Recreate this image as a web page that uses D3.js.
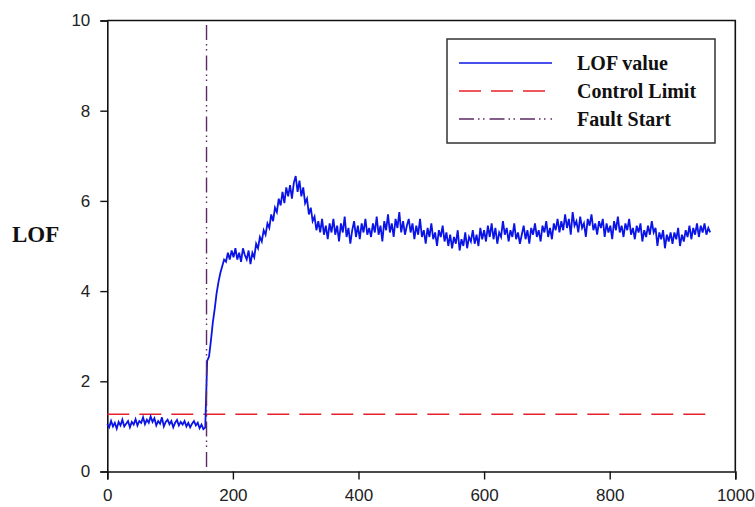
<!DOCTYPE html>
<html lang="en">
<head>
  <meta charset="UTF-8">
  <title>LOF Fault Detection</title>
  <script src="https://d3js.org/d3.v7.min.js"></script>
  <style>
    body { margin: 0; background: #fff; }
    svg { display: block; }
    .tick text { font-family: "Liberation Sans", Arial, sans-serif; font-size: 17px; fill: #222; }
    .serif { font-family: "Liberation Serif", "Times New Roman", serif; font-weight: bold; fill: #111; }
  </style>
</head>
<body>
  <svg width="755" height="507"></svg>

  <script>
    const width = 755, height = 507;
    const margin = { top: 20.5, right: 19.7, bottom: 35.5, left: 107.3 };

    // LOF value, one reading every 3 samples (x = 0, 3, 6, ... 960)
    const sampleStep = 3;
    const lofValues = [
      1.05, 0.98, 1.12, 1.00, 1.08, 0.95, 1.10, 1.02, 1.15, 1.00, 1.06, 1.12, 0.98, 1.10, 1.04, 1.16, 1.02, 1.12, 1.08, 1.20,
      1.05, 1.15, 1.08, 1.22, 1.10, 1.18, 1.02, 1.12, 1.06, 1.20, 1.00, 1.10, 1.15, 1.05, 1.12, 0.98, 1.08, 1.14, 1.02, 1.10,
      1.04, 1.12, 1.00, 1.08, 0.98, 1.06, 1.12, 1.02, 1.08, 0.96, 1.04, 0.94, 0.98, 2.45, 2.55, 2.90, 3.30, 3.60, 3.95, 4.20,
      4.40, 4.55, 4.70, 4.65, 4.85, 4.70, 4.90, 4.75, 4.95, 4.70, 4.85, 4.65, 4.95, 4.80, 4.70, 4.90, 4.60, 4.85, 4.75, 5.05,
      4.95, 5.20, 5.10, 5.35, 5.25, 5.50, 5.40, 5.70, 5.55, 5.85, 5.75, 6.05, 5.90, 6.20, 5.95, 6.30, 6.10, 6.35, 6.05, 6.40,
      6.55, 6.20, 6.45, 6.10, 6.30, 5.95, 6.05, 5.70, 5.85, 5.55, 5.65, 5.35, 5.55, 5.30, 5.60, 5.25, 5.45, 5.15, 5.50, 5.30,
      5.60, 5.25, 5.45, 5.10, 5.50, 5.30, 5.65, 5.20, 5.40, 5.05, 5.35, 5.55, 5.20, 5.45, 5.15, 5.50, 5.30, 5.60, 5.25, 5.40,
      5.20, 5.50, 5.30, 5.65, 5.25, 5.45, 5.10, 5.55, 5.35, 5.70, 5.30, 5.50, 5.20, 5.60, 5.40, 5.75, 5.30, 5.55, 5.25, 5.45,
      5.60, 5.30, 5.50, 5.15, 5.45, 5.25, 5.60, 5.20, 5.35, 5.05, 5.40, 5.20, 5.50, 5.15, 5.30, 5.00, 5.35, 5.20, 5.45, 5.10,
      5.30, 5.00, 5.25, 4.95, 5.20, 5.05, 5.35, 4.90, 5.15, 5.00, 5.30, 4.95, 5.20, 5.10, 5.35, 5.05, 5.25, 5.00, 5.40, 5.15,
      5.35, 5.10, 5.45, 5.20, 5.50, 5.15, 5.40, 5.05, 5.30, 5.20, 5.55, 5.25, 5.40, 5.10, 5.35, 5.20, 5.50, 5.15, 5.30, 5.05,
      5.25, 5.45, 5.15, 5.35, 5.05, 5.40, 5.25, 5.50, 5.20, 5.35, 5.10, 5.45, 5.30, 5.55, 5.20, 5.40, 5.15, 5.50, 5.35, 5.60,
      5.30, 5.55, 5.35, 5.70, 5.40, 5.60, 5.25, 5.75, 5.45, 5.55, 5.30, 5.65, 5.40, 5.50, 5.20, 5.60, 5.45, 5.70, 5.35, 5.50,
      5.25, 5.55, 5.40, 5.60, 5.20, 5.50, 5.30, 5.45, 5.15, 5.55, 5.35, 5.65, 5.30, 5.45, 5.20, 5.50, 5.35, 5.60, 5.25, 5.40,
      5.15, 5.45, 5.30, 5.50, 5.10, 5.35, 5.20, 5.45, 5.25, 5.55, 5.30, 5.40, 5.00, 5.30, 5.15, 5.35, 4.95, 5.25, 5.10, 5.30,
      5.05, 5.30, 5.15, 5.40, 5.00, 5.25, 5.10, 5.35, 5.20, 5.45, 5.15, 5.40, 5.25, 5.50, 5.20, 5.45, 5.30, 5.50, 5.25, 5.40,
      5.30
    ];

    const controlLimit = 1.27;
    const controlRange = [0, 955];
    const faultStart = 158;

    const xTicks = [0, 200, 400, 600, 800, 1000];
    const yTicks = [0, 2, 4, 6, 8, 10];
    const legendLabels = ["LOF value", "Control Limit", "Fault Start"];

    const lofData = lofValues.map((v, i) => ({ x: i * sampleStep, y: v }));

    const svg = d3.select("svg");

    const x = d3.scaleLinear().domain([0, 1000]).range([margin.left, width - margin.right]);
    const y = d3.scaleLinear().domain([0, 10]).range([height - margin.bottom, margin.top]);

    // frame (top and right edges)
    svg.append("path")
      .attr("d", `M${x(0)},${y(10)}H${x(1000)}V${y(0)}`)
      .attr("fill", "none")
      .attr("stroke", "#111")
      .attr("stroke-width", 1.6);

    // axes
    svg.append("g")
      .attr("transform", `translate(0,${y(0)})`)
      .call(d3.axisBottom(x).tickValues(xTicks).tickFormat(d3.format("d")).tickSize(8).tickPadding(9))
      .call(g => g.select(".domain").attr("stroke-width", 1.6).attr("stroke", "#111"))
      .call(g => g.selectAll(".tick line").attr("stroke-width", 1.4).attr("stroke", "#111"));

    svg.append("g")
      .attr("transform", `translate(${x(0)},0)`)
      .call(d3.axisLeft(y).tickValues(yTicks).tickSize(7).tickPadding(10))
      .call(g => g.select(".domain").attr("stroke-width", 1.6).attr("stroke", "#111"))
      .call(g => g.selectAll(".tick line").attr("stroke-width", 1.4).attr("stroke", "#111"));

    // control limit
    svg.append("line")
      .attr("x1", x(controlRange[0])).attr("x2", x(controlRange[1]))
      .attr("y1", y(controlLimit)).attr("y2", y(controlLimit))
      .attr("stroke", "#e8202a")
      .attr("stroke-width", 1.4)
      .attr("stroke-dasharray", "22,10");

    // LOF line
    const line = d3.line().x(d => x(d.x)).y(d => y(d.y));
    svg.append("path")
      .datum(lofData)
      .attr("d", line)
      .attr("fill", "none")
      .attr("stroke", "#0a14e6")
      .attr("stroke-width", 1.8);

    // fault start
    svg.append("line")
      .attr("x1", x(faultStart)).attr("x2", x(faultStart))
      .attr("y1", y(9.9)).attr("y2", y(0))
      .attr("stroke", "#5a2a62")
      .attr("stroke-width", 1.4)
      .attr("stroke-dasharray", "15,4,1.5,3.5,1.5,5");

    // y label
    svg.append("text")
      .attr("class", "serif")
      .attr("x", 12).attr("y", 242)
      .attr("font-size", 23)
      .text("LOF");

    // legend
    const legend = svg.append("g");
    legend.append("rect")
      .attr("x", 447).attr("y", 39)
      .attr("width", 268).attr("height", 104)
      .attr("fill", "#fff")
      .attr("stroke", "#333")
      .attr("stroke-width", 1.5);

    const legendStyles = [
      { color: "#0a14e6", dash: null },
      { color: "#e8202a", dash: "22,10" },
      { color: "#5a2a62", dash: "15,4,1.5,3.5,1.5,5" }
    ];
    const legendY = [63, 91, 119];

    legendLabels.forEach((label, i) => {
      legend.append("line")
        .attr("x1", 459).attr("x2", 552)
        .attr("y1", legendY[i]).attr("y2", legendY[i])
        .attr("stroke", legendStyles[i].color)
        .attr("stroke-width", 1.4)
        .attr("stroke-dasharray", legendStyles[i].dash);
      legend.append("text")
        .attr("class", "serif")
        .attr("x", 577).attr("y", legendY[i] + 7)
        .attr("font-size", 20)
        .text(label);
    });
  </script>
</body>
</html>
